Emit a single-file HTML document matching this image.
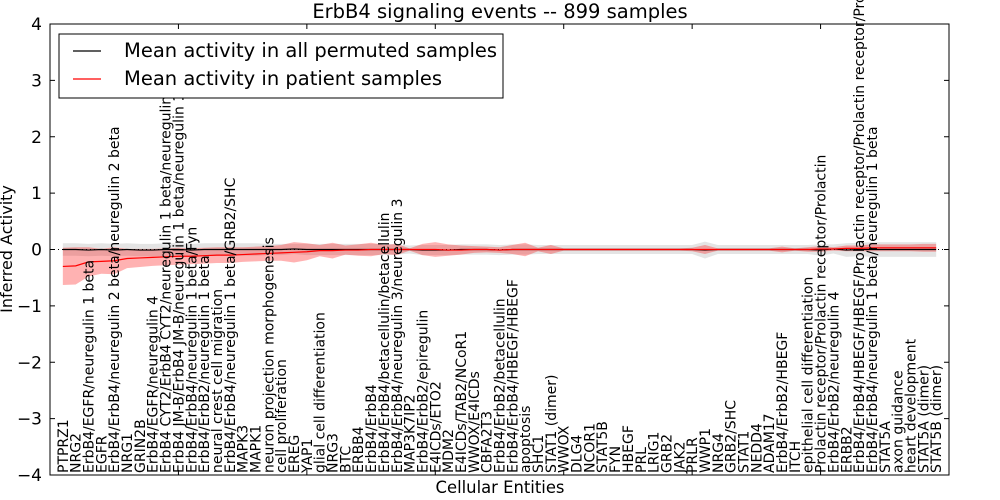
<!DOCTYPE html>
<html><head><meta charset="utf-8"><style>
html,body{margin:0;padding:0;background:#fff}
svg{display:block;font-family:"DejaVu Sans","Liberation Sans",sans-serif}
</style></head><body>
<svg id="chart" width="1000" height="500" xmlns="http://www.w3.org/2000/svg">
<rect width="1000" height="500" fill="#fff"/>
<g id="bands"></g><g id="lines"></g>
<g id="xlabels"></g><g id="yaxis"></g>
<text x="500" y="18" text-anchor="middle" font-size="19.5">ErbB4 signaling events -- 899 samples</text>
<rect x="50" y="24" width="899" height="451" fill="none" stroke="#000" stroke-width="1"/>
<text transform="translate(12,249) rotate(-90)" text-anchor="middle" font-size="16">Inferred Activity</text>
<text x="500" y="493" text-anchor="middle" font-size="16.4">Cellular Entities</text>
<g>
<rect x="59" y="34" width="444" height="64" fill="#fff" stroke="#000"/>
<line x1="73" y1="51" x2="101" y2="51" stroke="#000" stroke-width="1.2"/>
<text x="124" y="57" font-size="19.5">Mean activity in all permuted samples</text>
<line x1="73" y1="79" x2="101" y2="79" stroke="#f00" stroke-width="1.2"/>
<text x="124" y="85" font-size="19.5">Mean activity in patient samples</text>
</g>
</svg>
<script>
const categories=["PTPRZ1","NRG2","ErbB4/EGFR/neuregulin 1 beta","EGFR","ErbB4/ErbB4/neuregulin 2 beta/neuregulin 2 beta","NRG1","GRIN2B","ErbB4/EGFR/neuregulin 4","ErbB4 CYT2/ErbB4 CYT2/neuregulin 1 beta/neuregulin 1 beta","ErbB4 JM-B/ErbB4 JM-B/neuregulin 1 beta/neuregulin 1 beta","ErbB4/ErbB4/neuregulin 1 beta/Fyn","ErbB4/ErbB2/neuregulin 1 beta","neural crest cell migration","ErbB4/ErbB4/neuregulin 1 beta/GRB2/SHC","MAPK3","MAPK1","neuron projection morphogenesis","cell proliferation","EREG","YAP1","glial cell differentiation","NRG3","BTC","ERBB4","ErbB4/ErbB4","ErbB4/ErbB4/betacellulin/betacellulin","ErbB4/ErbB4/neuregulin 3/neuregulin 3","MAP3K7IP2","ErbB4/ErbB2/epiregulin","E4ICDs/ETO2","MDM2","E4ICDs/TAB2/NCoR1","WWOX/E4ICDs","CBFA2T3","ErbB4/ErbB2/betacellulin","ErbB4/ErbB4/HBEGF/HBEGF","apoptosis","SHC1","STAT1 (dimer)","WWOX","DLG4","NCOR1","STAT5B","FYN","HBEGF","PRL","LRIG1","GRB2","JAK2","PRLR","WWP1","NRG4","GRB2/SHC","STAT1","NEDD4","ADAM17","ErbB4/ErbB2/HBEGF","ITCH","epithelial cell differentiation","Prolactin receptor/Prolactin receptor/Prolactin","ErbB4/ErbB2/neuregulin 4","ERBB2","ErbB4/ErbB4/HBEGF/HBEGF/Prolactin receptor/Prolactin receptor/Prolactin","ErbB4/ErbB4/neuregulin 1 beta/neuregulin 1 beta","STAT5A","axon guidance","heart development","STAT5A (dimer)","STAT5B (dimer)"];
const patientMean=[-0.30,-0.29,-0.22,-0.21,-0.20,-0.16,-0.15,-0.14,-0.13,-0.12,-0.12,-0.11,-0.10,-0.10,-0.09,-0.08,-0.07,-0.06,-0.05,-0.04,-0.02,-0.02,-0.01,-0.01,0,0,0,0,0,0,-0.01,-0.01,0,0,-0.01,0,0,0,0,0,0,0,0,0,0,0,0,0,0,0,0,0,0,0,0,0,0,0,0,0.01,0.01,0.02,0.02,0.03,0.03,0.03,0.03,0.03,0.03];
const patientSpread=[0.33,0.33,0.26,0.22,0.24,0.17,0.16,0.15,0.15,0.15,0.14,0.14,0.14,0.14,0.13,0.13,0.13,0.14,0.18,0.15,0.10,0.14,0.08,0.10,0.12,0.08,0.10,0.02,0.10,0.13,0.10,0.08,0.06,0.05,0.05,0.08,0.12,0.03,0.08,0.02,0.02,0.02,0.02,0.02,0.02,0.02,0.02,0.02,0.02,0.03,0.08,0.02,0.02,0.02,0.02,0.02,0.05,0.02,0.04,0.05,0.03,0.05,0.05,0.06,0.06,0.06,0.06,0.07,0.07];
const permutedMean=[0,0,-0.01,0,-0.01,0,-0.01,-0.01,0,0,-0.01,0,0,0,0,0,0,0,0.01,0,0,0,0,0,0,0,0,0,-0.01,-0.01,-0.01,0,0,0,-0.01,0,0,0,0,0,0,0,0,0,0,0,0,0,0,0,-0.01,0,0,0,0,0,0,0,0,-0.01,0.01,-0.01,0,0,0,0,0,0,0];
const permutedSpread=[0.11,0.11,0.11,0.11,0.11,0.11,0.11,0.11,0.11,0.11,0.11,0.11,0.11,0.11,0.11,0.11,0.10,0.10,0.09,0.10,0.10,0.10,0.10,0.10,0.10,0.10,0.09,0.07,0.09,0.09,0.09,0.09,0.09,0.09,0.09,0.09,0.09,0.08,0.08,0.08,0.08,0.08,0.08,0.08,0.08,0.08,0.08,0.08,0.08,0.08,0.15,0.08,0.08,0.08,0.08,0.08,0.08,0.08,0.08,0.10,0.08,0.12,0.12,0.13,0.13,0.13,0.13,0.13,0.13];
const yTicks=[-4,-3,-2,-1,0,1,2,3,4];
const xTicks=[10,20,30,40,50,60];
const NS="http://www.w3.org/2000/svg";
const X0=50,X1=949,Y0=24,Y1=475;
const xs=i=>X0+(i)/70*(X1-X0);
const ys=v=>Y1-(v+4)/8*(Y1-Y0);
function mk(t,a,p){const e=document.createElementNS(NS,t);for(const k in a)e.setAttribute(k,a[k]);p.appendChild(e);return e;}
const bands=document.getElementById('bands'),lines=document.getElementById('lines'),xl=document.getElementById('xlabels'),ya=document.getElementById('yaxis');
function band(mean,spr,fill,op,name){let up=mean.map((m,i)=>xs(i+1)+','+ys(m+spr[i]));let dn=mean.map((m,i)=>xs(i+1)+','+ys(m-spr[i])).reverse();
const p=mk('polygon',{points:up.concat(dn).join(' '),fill:fill,'fill-opacity':op,stroke:'none'},bands);

}
band(permutedMean,permutedSpread,'#bbbbbb',0.4,'permuted-band');
band(patientMean,patientSpread,'#ff0000',0.3,'patient-band');
const z=mk('line',{x1:X0,x2:X1,y1:ys(0),y2:ys(0),stroke:'#000','stroke-dasharray':'1,3','stroke-width':1},lines);


const lb=mk('polyline',{points:permutedMean.map((m,i)=>xs(i+1)+','+ys(m)).join(' '),fill:'none',stroke:'#000','stroke-width':1.2},lines);


const lr=mk('polyline',{points:patientMean.map((m,i)=>xs(i+1)+','+ys(m)).join(' '),fill:'none',stroke:'#f00','stroke-width':1.2},lines);


categories.forEach((c,i)=>{const x=xs(i+1)+5;const t=mk('text',{transform:`translate(${x},473) rotate(-90)`,'font-size':14},xl);t.textContent=c;

});
yTicks.forEach(v=>{const y=ys(v);mk('line',{x1:X0,x2:X0+5,y1:y,y2:y,stroke:'#000'},ya);mk('line',{x1:X1-5,x2:X1,y1:y,y2:y,stroke:'#000'},ya);
const t=mk('text',{x:X0-8,y:y+6,'text-anchor':'end','font-size':17},ya);t.textContent=v<0?'\u2212'+(-v):v;

});
xTicks.forEach(v=>{const x=xs(v);mk('line',{x1:x,x2:x,y1:Y0,y2:Y0+5,stroke:'#000'},ya);mk('line',{x1:x,x2:x,y1:Y1-5,y2:Y1,stroke:'#000'},ya);});
</script>
</body></html>
